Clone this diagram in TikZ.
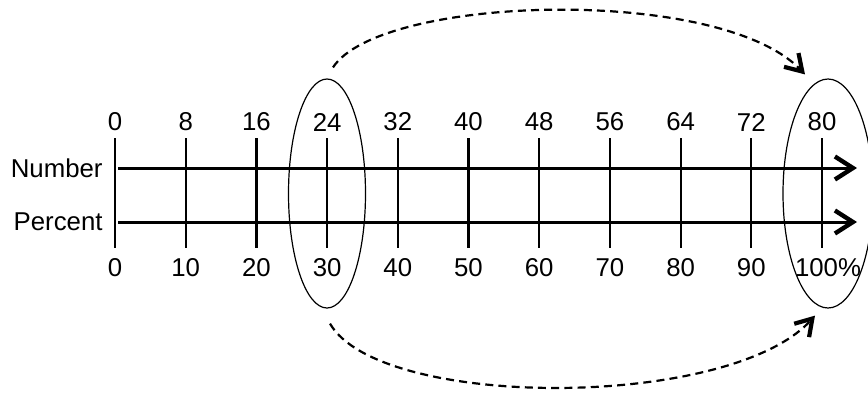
\documentclass[tikz,border=0pt]{standalone}
\usepackage{fontspec}
\setmainfont{Liberation Sans}
\usetikzlibrary{arrows.meta,shapes.geometric}
\begin{document}
\begin{tikzpicture}[x=0.5pt,y=-0.5pt,
  lbl/.style={font=\fontsize{12.9}{15}\selectfont, inner sep=0pt},
  tickline/.style={line width=1.1pt},
  axisline/.style={line width=1.5pt,-{Straight Barb[length=9pt,width=11.5pt,line width=2.2pt]}},
  oval/.style={draw, ellipse, line width=0.6pt, inner sep=0pt, minimum height=114.5pt},
  jump/.style={dashed, dash pattern=on 4pt off 2.6pt, line width=1.1pt,
    -{Straight Barb[length=8pt,width=10pt,line width=2.1pt]}}]
\useasboundingbox (0,0) rectangle (868,393);
% ticks and labels
\foreach \i in {0,...,10}{
  \pgfmathsetmacro{\xx}{115+70.7*\i}
  \pgfmathtruncatemacro{\top}{8*\i}
  \coordinate (t\i) at (\xx,138);
  \coordinate (b\i) at (\xx,248);
  \draw[tickline] (t\i) -- (b\i);
  \node[lbl] (nl\i) at (\xx,122) {\top};
}
\foreach \i in {0,...,9}{
  \pgfmathsetmacro{\xx}{115+70.7*\i}
  \pgfmathtruncatemacro{\bot}{10*\i}
  \node[lbl] (pl\i) at (\xx,268) {\bot};
}
\node[lbl] (pl10) at (828,268) {100\%};
% axes
\node[lbl, anchor=east] (numlab) at (103,168) {Number};
\node[lbl, anchor=east] (perlab) at (103,222) {Percent};
\coordinate (ns) at (118,168);
\coordinate (ne) at (857,168);
\coordinate (ps) at (118,222);
\coordinate (pe) at (857,222);
\draw[axisline] (ns) -- (ne);
\draw[axisline] (ps) -- (pe);
% ellipses
\node[oval, minimum width=38.5pt] (e1) at (327,193.5) {};
\node[oval, minimum width=45pt] (e2) at (828,193.5) {};
% dashed arrows
\draw[jump] ([shift={(6,-11)}]e1.north) .. controls (380,-5) and (720,-15) .. ([shift={(-23,-4)}]e2.north);
\draw[jump] ([shift={(3,15)}]e1.south) .. controls (380,410) and (730,410) .. ([shift={(-13,7)}]e2.south);
\end{tikzpicture}
\end{document}
